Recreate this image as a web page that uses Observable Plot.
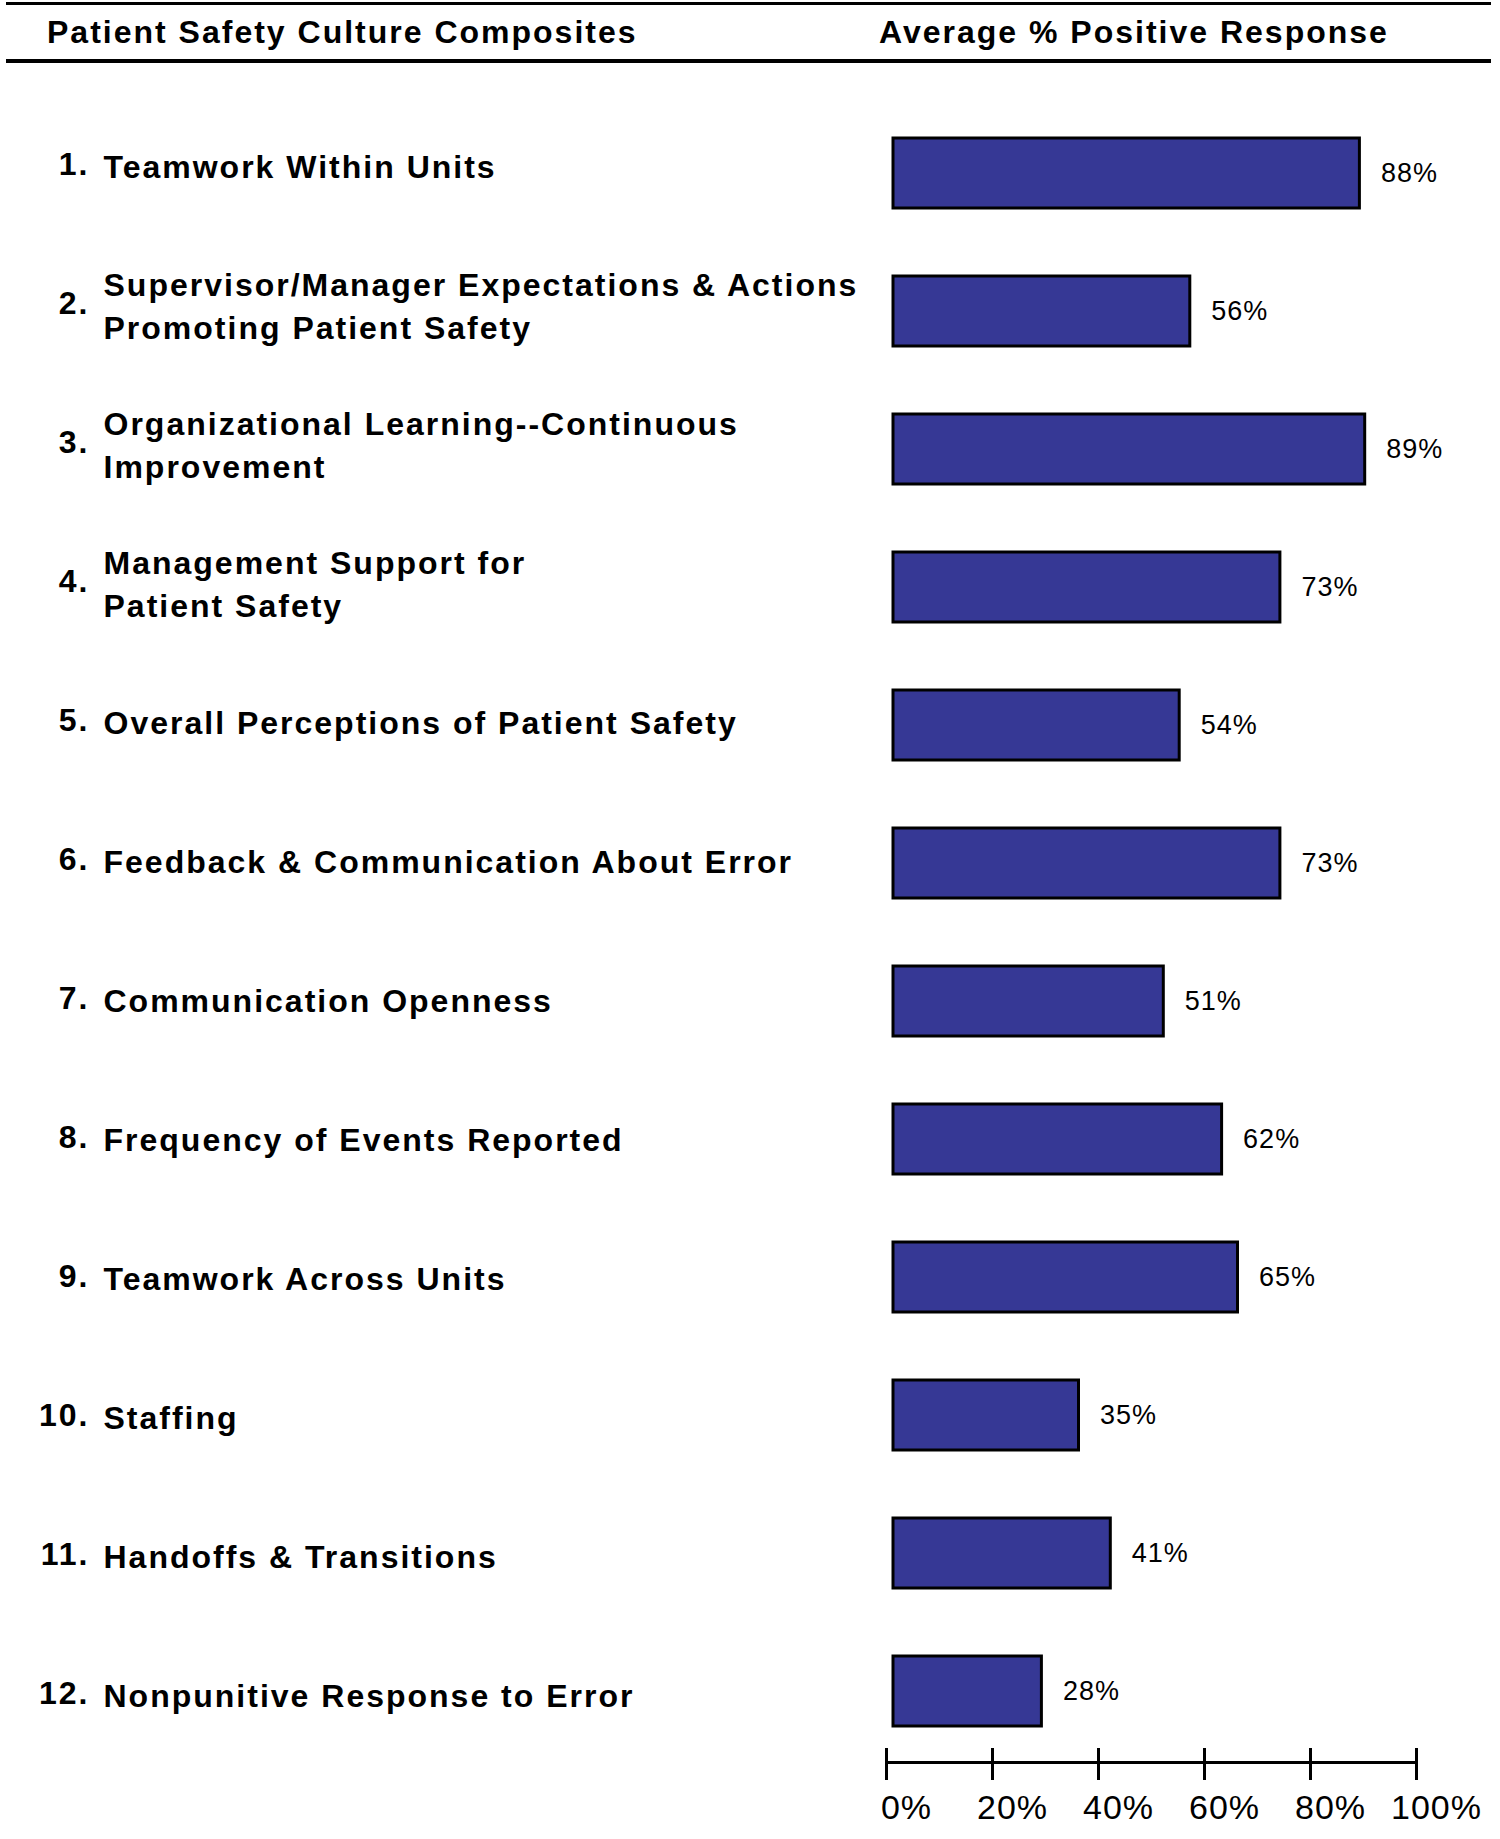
<!DOCTYPE html>
<html>
<head>
<meta charset="utf-8">
<script src="https://cdn.jsdelivr.net/npm/d3@7"></script>
<script src="https://cdn.jsdelivr.net/npm/@observablehq/plot@0.6"></script>
<style>
  html, body { margin: 0; padding: 0; background: #fff; }
  #wrap { position: relative; width: 1500px; height: 1839px; overflow: hidden; font-family: "Liberation Sans", Arial, sans-serif; }
  #wrap svg { position: absolute; left: 0; top: 0; }
  .rule { position: absolute; left: 6px; width: 1485px; background: #000; }
  .head { position: absolute; top: 13px; font-weight: bold; font-size: 32px; line-height: 38px; letter-spacing: 2px; color: #000; white-space: nowrap; }
</style>
</head>
<body>
<div id="wrap">
  <div class="rule" style="top:2px;height:3px"></div>
  <div class="rule" style="top:59px;height:3.5px"></div>
  <div class="head" style="left:47px">Patient Safety Culture Composites</div>
  <div class="head" style="left:879px">Average % Positive Response</div>
</div>
<script>
// ---- data ----
const numbers = ["1.", "2.", "3.", "4.", "5.", "6.", "7.", "8.", "9.", "10.", "11.", "12."];
const composites = [
  "Teamwork Within Units",
  "Supervisor/Manager Expectations & Actions\nPromoting Patient Safety",
  "Organizational Learning--Continuous\nImprovement",
  "Management Support for\nPatient Safety",
  "Overall Perceptions of Patient Safety",
  "Feedback & Communication About Error",
  "Communication Openness",
  "Frequency of Events Reported",
  "Teamwork Across Units",
  "Staffing",
  "Handoffs & Transitions",
  "Nonpunitive Response to Error"
];
const values = [88, 56, 89, 73, 54, 73, 51, 62, 65, 35, 41, 28];
const xTicks = [0, 20, 40, 60, 80, 100];

const rows = numbers.map((n, i) => ({num: n, label: composites[i], value: values[i]}));

const wrap = document.getElementById("wrap");
const font = '"Liberation Sans", Arial, sans-serif';

// ---- bars + axis ----
const chart = Plot.plot({
  width: 1500,
  height: 1839,
  marginLeft: 886,
  marginRight: 84,
  marginTop: 101.9,
  marginBottom: 77,
  style: {fontFamily: font, background: "transparent", color: "#000", letterSpacing: "1px"},
  x: {domain: [0, 100], axis: null},
  y: {domain: numbers, axis: null, paddingInner: 0.494, paddingOuter: 0.249},
  marks: [
    Plot.barX(rows, {x: "value", y: "num", fill: "#363895", stroke: "#000", strokeWidth: 3, dx: 7}),
    Plot.text(rows, {x: "value", y: "num", text: d => d.value + "%", dx: 28, textAnchor: "start",
      fontSize: 27, fill: "#000"}),
    Plot.frame({anchor: "bottom", stroke: "#000", strokeWidth: 3}),
    Plot.axisX({ticks: xTicks, tickSize: 32, dy: -14, tickFormat: () => "", stroke: "#000", strokeWidth: 3, label: null}),
    Plot.axisX({ticks: xTicks, tickSize: 0, tickPadding: 32, tickFormat: d => d + "%", fontSize: 34, dx: 20, fill: "#000", label: null})
  ]
});
wrap.appendChild(chart);

// ---- category labels ----
const labels = Plot.plot({
  width: 1500,
  height: 1839,
  marginLeft: 89,
  marginTop: 161,
  marginBottom: 143,
  style: {fontFamily: font, background: "transparent", color: "#000", letterSpacing: "2px"},
  y: {type: "point", domain: numbers, padding: 0, axis: null},
  marks: [
    Plot.text(rows, {y: "num", text: "num", frameAnchor: "left", textAnchor: "end", fontSize: 32,
      fontWeight: "bold", fill: "#000"}),
    Plot.text(rows, {y: "num", text: "label", frameAnchor: "left", textAnchor: "start", dx: 14,
      fontSize: 32, fontWeight: "bold", lineHeight: 1.36, fill: "#000"})
  ]
});
wrap.appendChild(labels);
</script>
</body>
</html>
